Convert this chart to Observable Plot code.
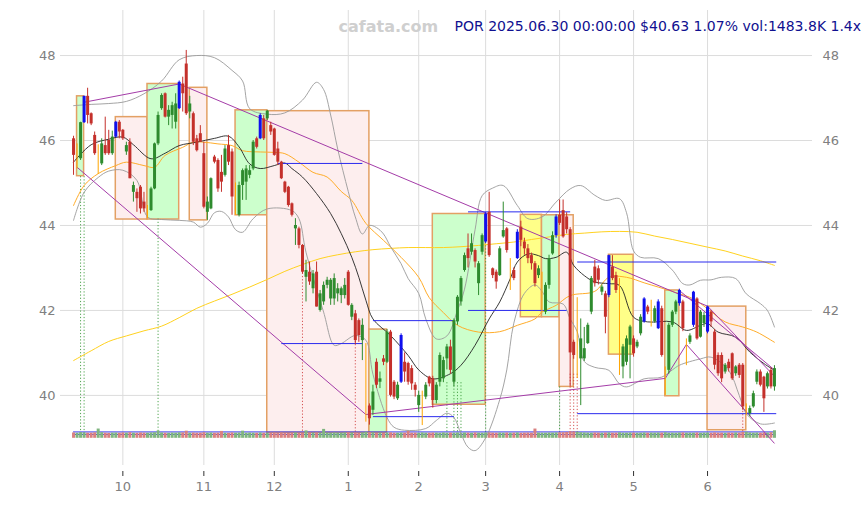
<!DOCTYPE html>
<html>
<head>
<meta charset="utf-8">
<script src="https://cdn.jsdelivr.net/npm/d3@7"></script>
<script src="https://cdn.jsdelivr.net/npm/@observablehq/plot@0.6"></script>
<style>
  body { margin: 0; background: #fff; font-family: "DejaVu Sans", sans-serif; }
</style>
</head>
<body>
<div id="chart"></div>
<script>
// ---- POR daily bars, 2024-09-11 .. 2025-06-30 (trading-day index 0..199) ----
const open = [
  46.04,45.60,45.57,46.42,47.04,46.63,46.12,45.55,45.45,45.88,
  46.00,45.69,46.08,46.43,46.24,45.73,45.96,44.78,44.78,44.90,
  44.55,44.35,44.35,44.86,45.92,46.75,47.10,46.55,46.59,46.43,
  46.75,47.33,47.80,46.67,46.63,46.04,46.16,45.69,44.31,44.39,
  45.61,45.53,45.25,45.18,45.88,45.73,44.60,44.24,44.94,45.02,
  45.18,45.33,46.04,46.04,46.51,46.51,46.35,46.27,45.80,45.49,
  45.02,44.90,44.51,43.92,43.92,43.53,42.78,42.90,42.51,42.90,
  42.00,42.20,42.59,42.27,42.27,42.39,42.35,42.35,42.90,41.84,
  41.92,41.76,41.29,39.70,39.75,39.65,40.78,40.31,40.86,40.78,
  41.49,40.31,39.92,40.31,40.78,40.75,40.63,40.24,39.76,39.90,
  39.96,40.43,40.39,39.88,40.31,40.39,40.86,41.14,40.31,41.73,
  42.20,42.94,43.45,43.37,43.41,42.63,43.37,43.61,44.31,42.98,
  42.90,42.82,43.73,43.92,42.90,42.94,43.22,43.96,43.61,43.45,
  43.29,43.10,42.82,42.20,41.96,42.59,43.33,43.76,44.24,44.35,
  44.20,43.90,41.25,41.00,40.86,40.86,41.22,41.96,43.02,42.98,
  42.43,42.39,42.35,43.02,42.82,41.40,40.67,40.78,41.18,41.33,
  41.14,41.45,41.73,42.08,41.90,41.73,41.57,42.04,40.20,40.59,
  41.65,41.96,42.16,42.20,41.00,41.25,41.65,42.27,41.37,41.69,
  41.49,41.96,41.49,40.94,40.94,40.55,40.78,40.98,40.51,40.71,
  40.71,39.60,39.57,39.73,40.31,40.55,40.43,40.20,40.59,40.20
];
const high = [
  46.10,45.92,46.43,47.04,47.23,46.65,46.20,45.90,46.04,46.55,
  46.24,46.22,46.45,46.47,46.26,45.96,46.04,45.02,44.86,44.94,
  44.78,44.47,44.90,45.94,46.67,47.10,47.12,46.82,46.90,47.10,
  47.40,47.49,48.12,47.04,46.67,46.12,46.35,45.96,44.67,45.12,
  45.65,45.57,45.65,45.88,46.12,45.80,45.00,45.02,45.33,45.41,
  45.41,46.00,46.08,46.63,46.59,46.71,46.43,46.29,45.96,45.51,
  45.04,44.92,44.53,44.16,43.96,43.55,43.18,43.14,42.94,43.14,
  42.47,42.67,42.78,42.75,42.86,42.63,42.55,42.75,42.94,42.16,
  42.00,41.80,41.80,41.22,39.80,40.24,40.86,40.55,40.94,41.55,
  41.53,40.35,40.31,41.45,41.00,40.78,40.70,40.30,40.10,40.10,
  40.30,40.45,40.45,40.30,41.00,40.90,41.20,41.30,41.80,42.35,
  42.80,43.35,43.80,43.80,43.45,43.15,43.80,44.30,44.78,43.00,
  42.95,43.50,44.55,43.95,43.22,43.00,43.90,44.10,43.70,43.55,
  43.35,43.15,43.05,42.90,42.65,43.30,43.85,44.25,44.60,44.60,
  44.30,43.95,41.30,42.30,41.80,41.60,41.70,42.80,43.18,43.05,
  42.60,42.45,43.30,43.29,42.90,42.75,41.20,41.40,41.65,41.40,
  41.30,41.90,42.30,42.12,42.24,42.10,42.25,42.10,40.67,41.70,
  42.00,42.24,42.50,42.24,41.33,41.45,42.45,42.30,42.00,41.95,
  42.10,42.00,41.55,41.00,41.00,40.75,40.85,41.00,40.70,40.75,
  40.75,39.80,39.75,40.10,40.60,40.60,40.45,40.55,40.65,40.70
];
const low = [
  45.18,45.33,45.53,46.40,46.39,46.35,45.65,45.20,45.41,45.65,
  45.65,45.65,46.06,46.04,46.00,45.65,45.10,44.55,44.31,44.27,
  44.31,44.16,44.33,44.84,45.88,46.71,46.53,46.35,46.27,46.27,
  46.73,46.67,46.59,46.51,45.88,45.73,45.96,44.39,44.12,44.37,
  45.45,44.78,44.78,45.14,45.41,44.24,44.24,44.20,44.59,44.59,
  45.10,45.29,45.80,46.02,46.00,46.47,46.12,45.63,45.41,45.08,
  44.75,44.43,44.20,43.53,43.45,42.86,42.20,42.59,42.39,42.08,
  41.96,42.12,42.51,42.12,42.12,42.20,42.16,42.27,42.10,41.76,
  41.20,41.25,40.82,39.37,39.30,39.53,40.16,40.16,40.70,40.75,
  39.96,39.90,39.88,40.28,40.31,40.24,40.12,39.96,39.60,39.29,
  39.90,40.20,39.70,39.80,40.20,40.30,40.60,40.50,40.20,41.65,
  42.10,42.90,43.00,43.30,43.00,42.35,43.30,43.58,43.25,42.75,
  42.50,42.80,43.70,43.35,42.47,42.70,43.20,43.50,43.30,43.10,
  42.95,42.55,42.75,41.96,41.90,42.50,43.30,43.70,44.00,43.70,
  43.80,40.20,40.85,40.40,39.76,40.80,41.20,41.90,42.55,42.60,
  42.35,41.45,42.30,42.70,42.40,40.47,40.39,40.70,40.39,40.90,
  41.10,41.40,41.70,41.90,41.61,41.70,41.55,40.90,40.00,40.50,
  41.60,41.90,42.10,41.50,40.70,41.20,41.60,41.30,41.35,41.60,
  41.45,41.60,40.60,40.45,40.30,40.50,40.55,40.35,40.45,40.40,
  39.65,39.53,39.50,39.70,40.25,40.20,39.60,40.15,40.15,40.10
];
const close = [
  45.65,45.60,46.42,47.04,46.59,46.39,45.69,45.55,45.92,45.69,
  45.69,46.08,46.43,46.20,46.04,45.88,45.10,44.94,44.63,44.39,
  44.39,44.35,44.86,45.92,46.59,47.06,46.55,46.71,46.82,46.86,
  47.37,47.10,46.63,46.86,45.96,45.76,45.96,44.43,44.55,45.10,
  45.49,44.86,45.02,45.80,45.49,44.67,44.60,44.94,45.29,45.33,
  45.29,45.96,45.84,46.59,46.04,46.69,46.20,45.65,45.49,45.10,
  44.78,44.47,44.24,44.00,43.53,42.90,42.94,42.67,42.86,42.08,
  42.39,42.59,42.71,42.71,42.75,42.51,42.51,42.59,42.12,42.12,
  41.29,41.41,41.65,39.70,39.45,40.08,40.24,40.39,40.78,41.49,
  40.00,39.96,40.24,41.41,40.55,40.31,40.27,40.12,40.00,39.90,
  40.24,40.27,39.88,40.24,40.94,40.82,41.14,40.59,41.76,42.31,
  42.75,43.29,43.22,43.57,43.14,43.10,43.76,44.27,43.29,42.82,
  42.67,43.45,43.88,43.41,42.90,42.75,43.84,43.65,43.45,43.22,
  43.10,42.63,42.98,42.20,42.59,43.22,43.76,44.20,44.05,43.73,
  43.90,41.00,40.94,41.00,41.33,41.10,41.65,42.75,42.63,42.71,
  42.55,41.84,43.29,42.75,42.47,41.40,41.14,41.33,41.61,40.98,
  41.25,41.84,42.27,41.96,41.90,42.04,42.20,40.94,40.20,41.65,
  41.96,42.20,42.47,41.57,41.00,41.40,42.43,41.33,41.96,41.88,
  42.08,41.73,40.71,40.51,40.39,40.71,40.63,40.39,40.67,40.47,
  39.73,39.60,39.69,40.04,40.55,40.24,39.92,40.51,40.20,40.63
];
// daily volume, thousands of shares
const volume = [
  1050,980,1120,1060,990,1010,1080,1820,1100,1000,
  960,1020,1040,990,1060,1010,1100,1000,980,1050,
  1020,990,1060,1100,1420,1050,1000,980,1030,1010,
  1080,1060,1400,1000,1040,990,1010,1100,1000,1050,
  990,1020,1350,1000,980,1060,1010,1040,1400,1000,
  1030,1010,990,1060,1000,980,1020,1040,1000,1060,
  1010,990,1020,1050,1000,1030,1450,1040,1010,1060,
  1000,1750,1020,990,1040,1010,1000,1060,1100,1020,
  1050,1000,1040,1200,1100,1060,1000,1020,990,1040,
  1080,1010,1000,1050,1020,1400,1000,1030,990,1060,
  1010,1000,1040,1020,990,1060,1000,1030,1010,1050,
  1000,1040,1020,990,1060,1010,1000,1050,1080,1020,
  1000,1030,1010,1040,1000,1020,1050,990,1010,1040,
  1000,1820,1030,1010,1000,1040,1020,1060,1080,1100,
  1150,1300,1250,1200,1100,1050,1020,1000,1040,1010,
  990,1030,1060,1000,1020,1080,1010,1000,1040,1020,
  990,1010,1050,1000,1030,1010,1040,1020,1100,1000,
  1010,990,1040,1060,1000,1020,1010,1050,990,1030,
  1040,1000,1060,1020,1010,990,1030,1000,1050,1020,
  1150,1200,1060,1010,1040,1000,1060,1020,1100,1483.8
];
// highlighted bars
const breakoutDays = [3,12,30,53,93,117,126,137,152,162,166,172,176,180];
const dojiDays = [1,7,21,46,83,99,124,133,143,155,164,168,174,191];

// axis ticks: first trading day of each month
const monthStarts = [14,37,57,78,98,117,138,159,180];
const monthLabels = ["10","11","12","1","2","3","4","5","6"];
const priceTicks = [40,42,44,46,48];

// indicator lines as [day, price]
const sma20 = [[0,45.49],[5,45.90],[10,46.03],[14,46.08],[17,45.90],[22,45.57],[26,45.70],[30,45.88],[35,45.96],[40,46.05],[44,46.10],[47,45.85],[50,45.45],[53,45.34],[57,45.41],[60,45.47],[62,45.34],[65,45.14],[69,44.75],[73,44.28],[76,43.81],[79,43.25],[81,42.78],[83,42.24],[85,41.80],[90,41.41],[95,40.94],[98,40.60],[102,40.39],[107,40.51],[110,40.71],[114,41.18],[118,41.80],[121,42.20],[124,42.75],[126,43.14],[129,43.33],[132,43.29],[134,43.22],[137,43.25],[140,43.37],[142,43.06],[145,42.82],[148,42.67],[152,42.63],[155,42.59],[159,41.84],[163,41.73],[170,41.73],[174,41.53],[178,41.65],[180,41.69],[183,41.49],[188,41.37],[192,41.02],[196,40.75],[199,40.59]];
const sma50 = [[0,44.47],[3,44.94],[7,45.22],[12,45.41],[15,45.49],[20,45.41],[23,45.37],[26,45.65],[31,45.84],[34,45.96],[37,45.96],[41,45.92],[45,45.88],[48,45.76],[53,45.73],[57,45.72],[60,45.69],[64,45.49],[68,45.25],[72,45.14],[76,44.80],[79,44.59],[83,44.05],[88,43.65],[93,43.25],[98,42.78],[101,42.30],[105,41.95],[109,41.65],[115,41.49],[121,41.50],[126,41.65],[131,41.80],[133,41.96],[137,42.12],[141,42.35],[148,42.45],[152,42.78],[157,42.78],[162,42.65],[166,42.55],[171,42.42],[176,42.27],[180,42.04],[185,41.73],[190,41.61],[194,41.49],[199,41.25]];
const sma200 = [[0,40.82],[5,41.05],[10,41.27],[15,41.40],[20,41.52],[25,41.63],[30,41.83],[35,42.05],[40,42.22],[45,42.38],[50,42.55],[55,42.73],[60,42.92],[65,43.08],[70,43.22],[75,43.31],[80,43.38],[85,43.43],[90,43.46],[95,43.48],[100,43.48],[105,43.48],[110,43.50],[115,43.53],[120,43.57],[125,43.61],[130,43.67],[135,43.73],[140,43.79],[145,43.82],[150,43.85],[155,43.86],[160,43.84],[165,43.75],[170,43.67],[175,43.58],[180,43.49],[185,43.40],[190,43.28],[195,43.17],[199,43.06]];
const bandUpper = [[0,46.82],[5,46.85],[10,46.87],[15,46.92],[20,47.10],[25,47.40],[30,47.90],[35,48.00],[40,47.95],[45,47.65],[48,47.40],[50,46.75],[55,46.62],[60,46.65],[65,46.95],[69,47.37],[71,47.20],[73,46.60],[75,45.80],[78,44.80],[80,44.20],[82,43.80],[84,44.00],[86,43.95],[88,43.80],[90,43.50],[93,43.10],[95,42.75],[98,42.40],[100,41.80],[103,41.33],[106,41.40],[109,42.00],[111,42.50],[114,43.90],[116,44.70],[119,44.88],[122,44.94],[126,44.47],[129,44.16],[133,44.20],[137,44.55],[141,44.86],[144,44.94],[148,44.71],[151,44.59],[155,44.63],[157,44.30],[159,43.40],[161,43.25],[166,43.22],[170,42.95],[173,42.63],[175,42.60],[178,42.71],[181,42.72],[184,42.78],[188,42.75],[191,42.39],[195,42.16],[197,42.00],[199,41.61]];
const bandLower = [[0,44.12],[3,44.78],[7,45.13],[10,45.28],[14,45.30],[18,45.06],[21,44.20],[25,44.14],[30,44.12],[34,44.08],[36,43.96],[38,44.05],[40,44.30],[42,44.33],[44,44.20],[46,43.90],[48,43.84],[51,44.16],[55,44.39],[62,44.35],[64,44.16],[66,43.37],[71,41.96],[74,41.18],[76,41.22],[80,41.41],[83,41.30],[85,40.50],[89,39.48],[91,39.25],[94,39.18],[100,39.22],[103,39.41],[106,39.58],[108,39.48],[110,39.10],[112,38.78],[114,38.70],[117,39.00],[121,39.90],[123,40.60],[125,41.70],[128,42.40],[131,42.60],[133,42.45],[135,42.20],[139,42.15],[141,41.80],[143,41.50],[145,40.80],[148,40.66],[152,40.59],[155,40.27],[157,40.20],[162,40.39],[167,40.43],[170,40.60],[172,40.71],[178,40.86],[181,40.90],[186,40.59],[189,40.00],[191,39.57],[195,39.33],[199,39.35]];

// consolidation zones: [firstDay, lastDay, top, bottom, kind]
const zones = [
  [1,3,47.04,45.16,"up"],[12,21,46.55,44.14,"down"],[21,30,47.33,44.14,"up"],
  [33,38,47.24,44.12,"down"],[46,55,46.71,44.24,"up"],[55,84,46.69,39.12,"down"],
  [84,89,41.55,39.12,"up"],[102,117,44.27,39.78,"up"],[127,133,44.25,41.84,"flat"],
  [133,138,44.24,41.84,"up"],[138,142,44.24,40.20,"down"],[152,159,43.31,40.96,"flat"],
  [168,172,42.47,39.98,"up"],[180,191,42.09,39.18,"down"]
];
// trend lines: [day1, price1, day2, price2]
const trendLines = [
  [1,45.37,83,39.55],[3,46.90,30,47.33],[30,47.33,180,42.10],
  [172,42.47,199,40.60],[180,42.10,199,40.45],
  [83,39.55,168,40.40],[168,40.40,174,41.20],[174,41.20,199,38.87]
];
// support / resistance levels: [fromDay, toDay, price]
const levels = [
  [58,82,45.46],[59,82,41.22],[85,108,41.76],[85,108,39.50],
  [112,141,44.32],[112,140,42.00],[143,199.5,43.14],[143,199.5,39.57]
];
// signal markers: [day, fromPrice, kind]
const signals = [
  [2,45.15,"up"],[3,45.15,"up"],[24,44.15,"up"],[65,42.95,"down"],[80,41.80,"down"],
  [106,40.30,"up"],[108,40.30,"up"],[109,40.30,"up"],[110,40.30,"up"],[117,43.60,"up"],
  [138,40.20,"up"],[141,40.50,"down"],[142,40.50,"down"],[143,40.50,"down"],[190,39.70,"down"]
];
// volume moving averages (thousands)
const volumeAverages = [1250, 750];

const ticker = "POR";
const stamp = "2025.06.30 00:00:00";
const volumeRatio = 1.4;

// ---- build tables ----
const RED = "#c4302b", GREEN = "#2e8b2e", BLUE = "#1010ee", ORANGE = "#ffa500";
const bars = open.map((o, i) => {
  let color = close[i] >= o ? GREEN : RED;
  if (breakoutDays.includes(i)) color = BLUE;
  if (dojiDays.includes(i)) color = ORANGE;
  return {i, open: o, high: high[i], low: low[i], close: close[i], volume: volume[i], color,
          volColor: close[i] >= o ? "#7fb57f" : "#d98080"};
});
const volBase = 38.99, volPerK = 0.12 / 1000;
const zoneFill = {up: "#ccffcc", down: "#fdeeee", flat: "#ffff88"};

const last = bars[bars.length - 1], prev = bars[bars.length - 2];
const pct = ((last.close / prev.close - 1) * 100).toFixed(2);
const headline = `${ticker} ${stamp} $${last.close.toFixed(2)} ${pct}% vol:${last.volume.toFixed(1)}K ${volumeRatio.toFixed(1)}x`;

const seriesLine = (pts, stroke, w) => Plot.line(pts, {x: d => d[0], y: d => d[1], stroke, strokeWidth: w, curve: "catmull-rom"});

const chart = Plot.plot({
  width: 865,
  height: 505,
  marginTop: 10,
  marginBottom: 40,
  marginLeft: 60,
  marginRight: 53,
  x: {type: "linear", domain: [-3.7, 209.8], axis: null},
  y: {domain: [38.35, 49.06], axis: null},
  color: {type: "identity"},
  style: {fontFamily: "DejaVu Sans, sans-serif", fontSize: "13px", background: "#fff", overflow: "visible"},
  marks: [
    Plot.gridX(monthStarts, {stroke: "#dcdcdc", strokeOpacity: 1}),
    Plot.gridY(priceTicks, {stroke: "#dcdcdc", strokeOpacity: 1}),
    Plot.rect(zones, {x1: d => d[0], x2: d => d[1], y1: d => d[3], y2: d => d[2],
      fill: d => zoneFill[d[4]], stroke: "#e3a064", strokeWidth: 1.5}),
    Plot.ruleX(signals, {x: d => d[0], y1: d => d[1], y2: volBase,
      stroke: d => d[2] === "up" ? "#3a9a3a" : "#d04040", strokeWidth: 0.9, strokeDasharray: "1.2,2"}),
    Plot.ruleY(volumeAverages, {y: d => volBase + d * volPerK, x1: 0, x2: 199.5, stroke: "#3333ee", strokeWidth: 1}),
    Plot.ruleX(bars, {x: "i", y1: volBase, y2: d => volBase + d.volume * volPerK, stroke: "volColor", strokeWidth: 3}),
    seriesLine(sma200, "#ffd21f", 1),
    seriesLine(sma50, "#ffad2a", 1),
    seriesLine(bandUpper, "#9a9a9a", 0.9),
    seriesLine(bandLower, "#9a9a9a", 0.9),
    seriesLine(sma20, "#222", 0.9),
    Plot.link(trendLines, {x1: d => d[0], y1: d => d[1], x2: d => d[2], y2: d => d[3], stroke: "#a43ca8", strokeWidth: 1}),
    Plot.link(levels, {x1: d => d[0], x2: d => d[1], y1: d => d[2], y2: d => d[2], stroke: "#2a2aee", strokeWidth: 1}),
    Plot.ruleX(bars, {x: "i", y1: "low", y2: "high", stroke: "color", strokeWidth: 1}),
    Plot.ruleX(bars, {x: "i", y1: "open", y2: "close", stroke: "color", strokeWidth: 3}),
    Plot.axisX(monthStarts, {tickFormat: d => monthLabels[monthStarts.indexOf(d)], tickSize: 5, tickPadding: 5,
      dy: 6, stroke: "#333", fill: "#808080", fontSize: 13, label: null}),
    Plot.axisY(priceTicks, {anchor: "left", tickSize: 0, tickPadding: 5, fill: "#808080", fontSize: 13, label: null}),
    Plot.axisY(priceTicks, {anchor: "right", tickSize: 0, tickPadding: 10, fill: "#808080", fontSize: 13, label: null}),
    Plot.text(["cafata.com"], {frameAnchor: "top-left", dx: 278, dy: 16, textAnchor: "start", lineAnchor: "middle",
      fill: "#cfcfcf", fontSize: 16, fontWeight: "bold"}),
    Plot.text([headline], {frameAnchor: "top-left", dx: 394, dy: 16, textAnchor: "start", lineAnchor: "middle",
      fill: "#101090", fontSize: 14})
  ]
});
document.getElementById("chart").appendChild(chart);
</script>
</body>
</html>
